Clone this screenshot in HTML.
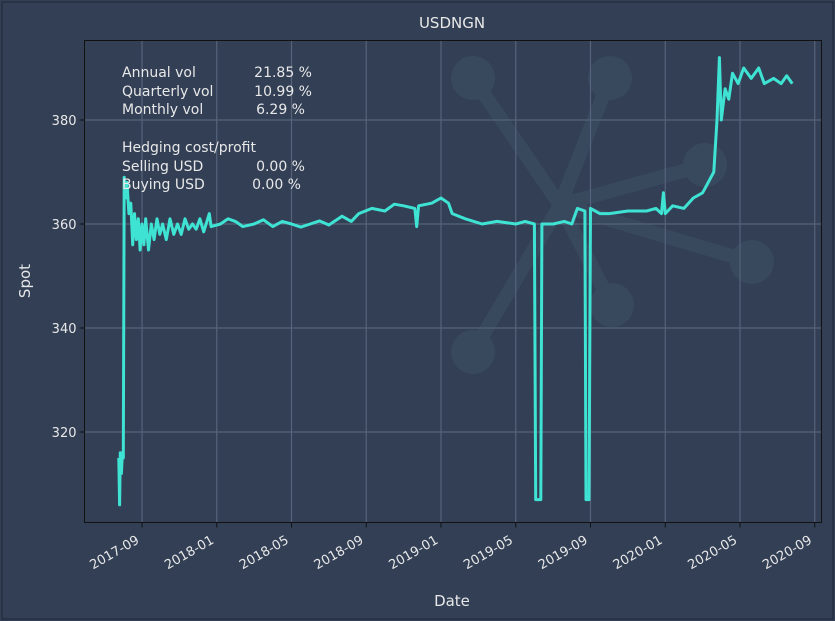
<!DOCTYPE html>
<html><head><meta charset="utf-8"><style>
html,body{margin:0;padding:0;background:#323f55;}
svg{display:block;font-family:"DejaVu Sans","Liberation Sans",sans-serif;}
</style></head><body>
<svg id="chart" width="835" height="621" viewBox="0 0 835 621" xmlns="http://www.w3.org/2000/svg">
<rect x="0" y="0" width="835" height="621" fill="#323f55"/>
<rect x="2" y="2" width="831" height="617" fill="none" stroke="#1e2736" stroke-width="1"/>
<g id="watermark" opacity="0.06" fill="#9fd8e0" stroke="#9fd8e0">
<g stroke-width="14">
<line x1="560" y1="205" x2="473" y2="78"/><line x1="560" y1="205" x2="610" y2="78"/>
<line x1="560" y1="205" x2="705" y2="165"/><line x1="560" y1="205" x2="752" y2="262"/>
<line x1="560" y1="205" x2="612" y2="305"/><line x1="560" y1="205" x2="473" y2="352"/>
</g>
<g stroke="none"><circle cx="473" cy="78" r="22"/><circle cx="610" cy="78" r="22"/><circle cx="705" cy="165" r="22"/><circle cx="752" cy="262" r="22"/><circle cx="612" cy="305" r="22"/><circle cx="473" cy="352" r="22"/></g>
</g>
<g id="grid"></g>
<g id="series"></g>
<rect x="84.5" y="40.5" width="737" height="482" fill="none" stroke="#111" stroke-width="1"/>
<g id="axes"></g>
<text x="452" y="28" fill="#e8e8e8" font-size="15" text-anchor="middle">USDNGN</text>
<text x="452" y="606" fill="#e8e8e8" font-size="15" text-anchor="middle">Date</text>
<text x="30" y="281" fill="#e8e8e8" font-size="15" text-anchor="middle" transform="rotate(-90 30 281)">Spot</text>
<g fill="#e8e8e8" font-size="14">
<text x="122" y="77">Annual vol</text><text x="312" y="77" text-anchor="end">21.85 %</text>
<text x="122" y="96">Quarterly vol</text><text x="312" y="96" text-anchor="end">10.99 %</text>
<text x="122" y="114">Monthly vol</text><text x="305" y="114" text-anchor="end">6.29 %</text>
<text x="122" y="152">Hedging cost/profit</text>
<text x="122" y="171">Selling USD</text><text x="305" y="171" text-anchor="end">0.00 %</text>
<text x="122" y="189">Buying USD</text><text x="301" y="189" text-anchor="end">0.00 %</text>
</g>
</svg>
<script>
// x in months since 2017-01 (2017-09 = 8)
const xMonths = [6.76,6.80,6.84,6.90,6.95,7.0,7.05,7.12,7.2,7.3,7.4,7.5,7.6,7.7,7.8,7.9,8.0,8.1,8.2,8.35,8.5,8.65,8.8,8.95,9.1,9.3,9.5,9.7,9.9,10.1,10.3,10.5,10.7,10.9,11.1,11.3,11.6,11.7,12.2,12.6,13,13.4,14,14.5,15,15.5,16,16.5,17,17.5,18,18.7,19.2,19.6,20.3,21,21.5,22,22.6,22.7,22.8,23.5,24,24.4,24.6,25.3,26.2,27,28,28.5,29.0,29.07,29.34,29.4,30,30.6,31.0,31.3,31.7,31.76,31.92,32.0,32.5,33,34,35,35.5,35.8,35.9,36.0,36.4,37,37.5,38,38.3,38.6,38.77,38.9,39.0,39.2,39.4,39.6,39.9,40.2,40.6,41,41.3,41.8,42.2,42.5,42.8];
const spotValues = [315,306,316,312,316,315,369,365,368,362,364,356,362,357,361,355,360,356,361,355,360,357,361,358,360,357,361,358,360,358,361,359,360,359,361,358.5,362,359.5,360,361,360.5,359.5,360,360.8,359.5,360.5,360,359.4,360,360.6,359.8,361.5,360.5,362,363,362.5,363.8,363.5,363,359.5,363.5,364,365,364,362,361,360,360.5,360,360.5,360,307,307,360,360,360.5,360,363,362.5,307,307,363,362,362,362.5,362.5,363,362,366,362,363.5,363,365,366,368,370,380,392,380,386,384,389,387,390,388,390,387,388,387,388.5,387];
const xTickMonths = [8,12,16,20,24,28,32,36,40,44];
const xTickLabels = ["2017-09","2018-01","2018-05","2018-09","2019-01","2019-05","2019-09","2020-01","2020-05","2020-09"];
const yTickValues = [320,340,360,380];
const yTickLabels = ["320","340","360","380"];

const NS="http://www.w3.org/2000/svg";
const X0=84.5,X1=821.5,Y0=40.5,Y1=522.5;
function xScale(m){return 142+(m-8)*(441-142)/16;}
function yScale(v){return 224-(v-360)*(224-120)/20;}
function mk(tag,attrs,parent){const e=document.createElementNS(NS,tag);for(const k in attrs)e.setAttribute(k,attrs[k]);parent.appendChild(e);return e;}
const grid=document.getElementById('grid'),axes=document.getElementById('axes'),series=document.getElementById('series');
xTickMonths.forEach((m,i)=>{
  const x=xScale(m);
  const g=mk('line',{x1:x,y1:Y0,x2:x,y2:Y1,stroke:'#56637a','stroke-width':1.2},grid);
  
  
  const t=mk('line',{x1:x,y1:Y1,x2:x,y2:Y1+5,stroke:'#111','stroke-width':1},axes);
  
  
  const lx=x-2,ly=Y1+20;
  const l=mk('text',{x:lx,y:ly,fill:'#e8e8e8','font-size':13,'text-anchor':'end',transform:`rotate(-30 ${lx} ${ly})`},axes);
  l.textContent=xTickLabels[i];
  
  
});
yTickValues.forEach((v,i)=>{
  const y=yScale(v);
  const g=mk('line',{x1:X0,y1:y,x2:X1,y2:y,stroke:'#56637a','stroke-width':1.2},grid);
  
  
  const t=mk('line',{x1:X0-5,y1:y,x2:X0,y2:y,stroke:'#111','stroke-width':1},axes);
  
  
  const l=mk('text',{x:X0-8,y:y+5,fill:'#e8e8e8','font-size':13,'text-anchor':'end'},axes);
  l.textContent=yTickLabels[i];
  
  
});
const d=xMonths.map((m,i)=>(i?'L':'M')+xScale(m).toFixed(1)+','+yScale(spotValues[i]).toFixed(1)).join(' ');
const p=mk('path',{d:d,fill:'none',stroke:'#3fe3d3','stroke-width':3,'stroke-linejoin':'round'},series);


</script>
</body></html>
